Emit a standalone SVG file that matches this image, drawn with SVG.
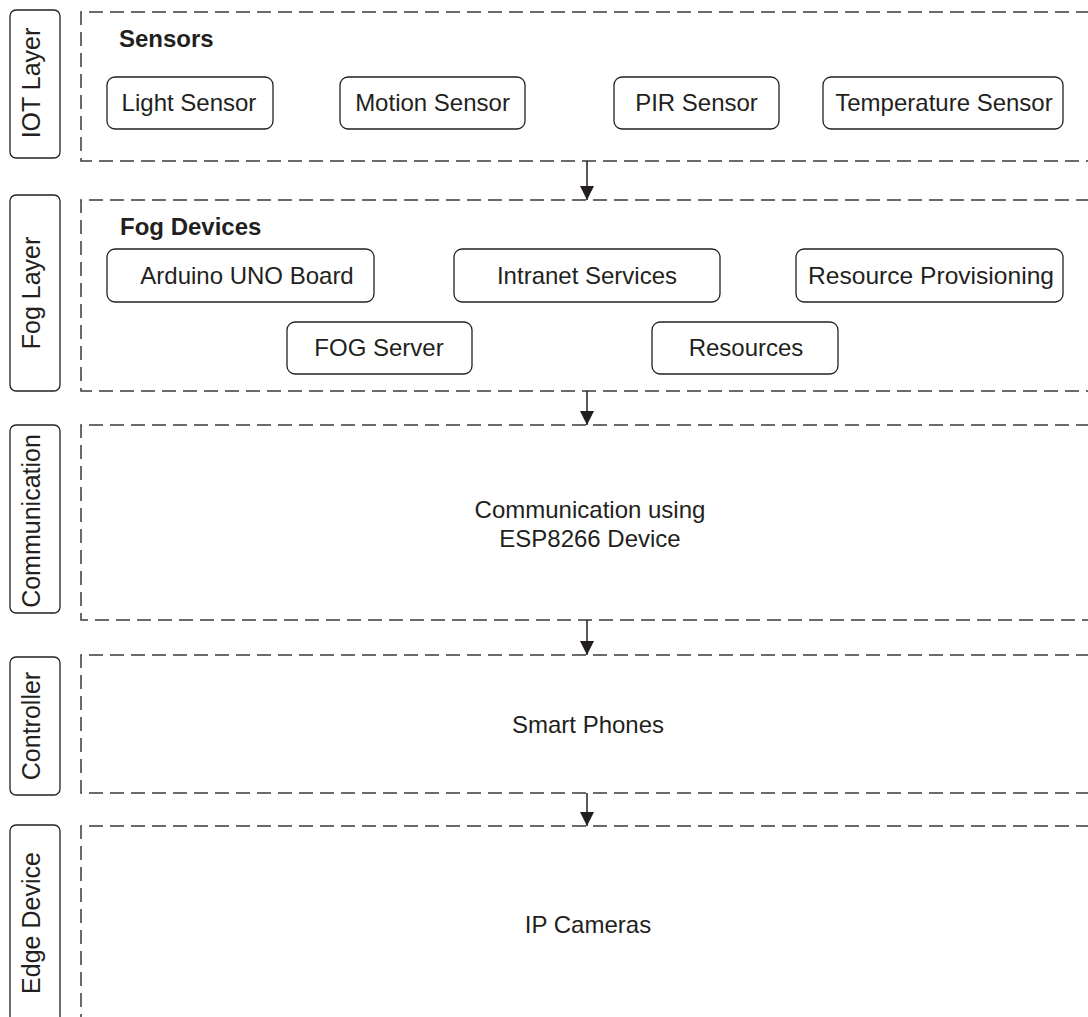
<svg xmlns="http://www.w3.org/2000/svg" width="1088" height="1017" viewBox="0 0 1088 1017">
<style>
.layer{fill:none;stroke:#3a3a3a;stroke-width:1.5;stroke-dasharray:14 7}
.side{fill:#fff;stroke:#231f20;stroke-width:1.3}
.node{fill:#fff;stroke:#231f20;stroke-width:1.3}
.t{font-family:"Liberation Sans",Arial,sans-serif;font-size:24px;fill:#231f20;text-anchor:middle}
.s{font-family:"Liberation Sans",Arial,sans-serif;font-size:25px;fill:#231f20;text-anchor:middle}
.h{font-family:"Liberation Sans",Arial,sans-serif;font-size:24px;font-weight:bold;fill:#231f20}
.c{stroke:#231f20;stroke-width:1.5;fill:none}
</style>
<defs>
<marker id="arr" markerWidth="14" markerHeight="14" refX="14" refY="7" orient="auto" markerUnits="userSpaceOnUse">
<path d="M0,0 L14,7 L0,14 Z" fill="#231f20"/>
</marker>
</defs>
<rect width="1088" height="1017" fill="#fff"/>

<g id="layers">
<path class="layer" d="M1090,12 H81 V161 H1090"/>
<path class="layer" d="M1090,200 H81 V391 H1090"/>
<path class="layer" d="M1090,425 H81 V620 H1090"/>
<path class="layer" d="M1090,655 H81 V793 H1090"/>
<path class="layer" d="M1090,826 H81 V1030"/>
</g>

<g id="side-iot"><rect class="side" x="10" y="10" width="50" height="148" rx="6"/><text class="s" transform="translate(40,83) rotate(-90)">IOT Layer</text></g>
<g id="side-fog"><rect class="side" x="10" y="195" width="50" height="196" rx="6"/><text class="s" transform="translate(40,293) rotate(-90)">Fog Layer</text></g>
<g id="side-comm"><rect class="side" x="10" y="425" width="50" height="188" rx="6"/><text class="s" transform="translate(40,521) rotate(-90)">Communication</text></g>
<g id="side-ctrl"><rect class="side" x="10" y="657" width="50" height="138" rx="6"/><text class="s" transform="translate(40,726) rotate(-90)">Controller</text></g>
<g id="side-edge"><rect class="side" x="10" y="825" width="50" height="210" rx="6"/><text class="s" transform="translate(40,923) rotate(-90)">Edge Device</text></g>

<g id="sensors-title"><text class="h" x="119" y="47">Sensors</text></g>
<g id="light-sensor"><rect class="node" x="107" y="77" width="166" height="52" rx="8"/><text class="t" x="189" y="111">Light Sensor</text></g>
<g id="motion-sensor"><rect class="node" x="340" y="77" width="185" height="52" rx="8"/><text class="t" x="432.5" y="111">Motion Sensor</text></g>
<g id="pir-sensor"><rect class="node" x="614" y="77" width="165" height="52" rx="8"/><text class="t" x="696.5" y="111">PIR Sensor</text></g>
<g id="temp-sensor"><rect class="node" x="823" y="77" width="240" height="52" rx="8"/><text class="t" x="944" y="111">Temperature Sensor</text></g>

<g id="fog-title"><text class="h" x="120" y="235">Fog Devices</text></g>
<g id="arduino"><rect class="node" x="107" y="249" width="267" height="53" rx="8"/><text class="t" x="247" y="284">Arduino UNO Board</text></g>
<g id="intranet"><rect class="node" x="454" y="249" width="266" height="53" rx="8"/><text class="t" x="587" y="284">Intranet Services</text></g>
<g id="provisioning"><rect class="node" x="796" y="249" width="267" height="53" rx="8"/><text class="t" x="931" y="284" textLength="246" lengthAdjust="spacingAndGlyphs">Resource Provisioning</text></g>
<g id="fog-server"><rect class="node" x="287" y="322" width="185" height="52" rx="8"/><text class="t" x="379" y="356">FOG Server</text></g>
<g id="resources"><rect class="node" x="652" y="322" width="186" height="52" rx="8"/><text class="t" x="746" y="356">Resources</text></g>

<g id="communication"><text class="t" x="590" y="518" font-size="24.5">Communication using</text><text class="t" x="590" y="547" font-size="24.5">ESP8266 Device</text></g>
<g id="smart-phones"><text class="t" x="588" y="733">Smart Phones</text></g>
<g id="ip-cameras"><text class="t" x="588" y="933">IP Cameras</text></g>

<g id="connectors">
<line class="c" x1="587" y1="161" x2="587" y2="200" marker-end="url(#arr)"/>
<line class="c" x1="587" y1="391" x2="587" y2="425" marker-end="url(#arr)"/>
<line class="c" x1="587" y1="620" x2="587" y2="655" marker-end="url(#arr)"/>
<line class="c" x1="587" y1="793" x2="587" y2="826" marker-end="url(#arr)"/>
</g>
</svg>
